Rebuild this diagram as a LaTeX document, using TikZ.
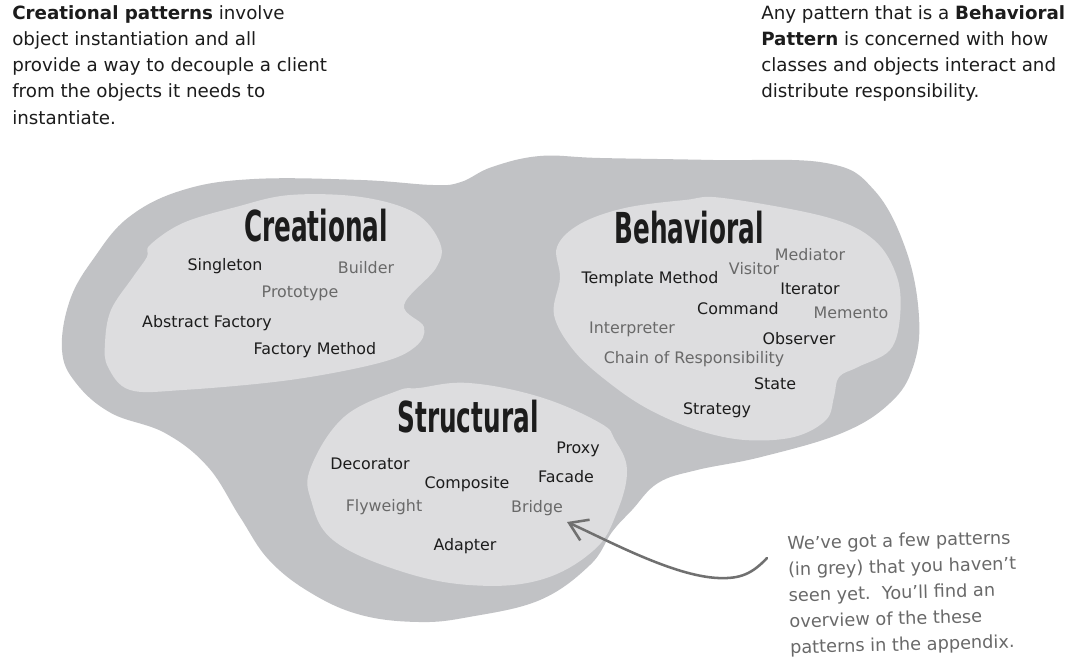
\documentclass[tikz,border=0pt]{standalone}
\usepackage{fontspec}
\setmainfont{DejaVu Sans}
\usepackage{graphicx}
\usetikzlibrary{arrows.meta, positioning}
\definecolor{blobdark}{RGB}{193,194,197}
\definecolor{bloblight}{RGB}{221,221,223}
\definecolor{seentext}{RGB}{28,28,28}
\definecolor{unseentext}{RGB}{105,105,105}
\definecolor{penline}{RGB}{112,112,112}
\newcommand{\narrowtitle}[1]{\scalebox{0.58}[1]{\bfseries #1}}
\tikzset{
    outerblob/.style={fill=blobdark, draw=none},
    innerblob/.style={fill=bloblight, draw=none},
    groupname/.style={inner sep=0pt, text=seentext, text height=23.4pt, text depth=0pt, font=\fontsize{32}{32}\selectfont},
    known/.style={inner sep=0pt, text=seentext, text height=8.6pt, text depth=2.6pt, font=\fontsize{11.9}{14}\selectfont},
    unseen/.style={known, text=unseentext},
    blurb/.style={inner sep=0pt, align=left, anchor=north west, text=seentext, font=\fontsize{13.7}{19.7}\selectfont},
    scribble/.style={inner sep=0pt, align=left, anchor=north west, text=unseentext, font=\fontsize{13.3}{19.5}\selectfont, rotate=1.5},
    arrow/.style={-{Straight Barb[length=13pt,width=17pt]}, line width=1.9pt, draw=penline, line cap=round},
}

\begin{document}
\begin{tikzpicture}[x=0.75pt, y=-0.75pt]
        \useasboundingbox (0,0) rectangle (1077,663);
        \fill[white] (0,0) rectangle (1077,663);

        % Blobs
        \path[outerblob] plot[smooth cycle, tension=0.65] coordinates {
            (62,350) (70,300) (94,258) (129,217) (183,190) (254,179) (361,180)
            (433,185) (461,182) (492,167) (540,156) (600,158) (713,160) (826,163)
            (874,190) (906,250) (919,317) (913,367) (890,403) (842,433) (761,457)
            (697,470) (658,483) (632,510) (612,532) (590,565) (540,600) (469,617)
            (419,622) (361,615) (311,593) (269,560) (240,517) (208,467) (165,433)
            (111,413) (76,383)};
        \path[innerblob] plot[smooth cycle, tension=0.6] coordinates {
            (105,343) (111,310) (133,277) (147,257) (150,245) (183,223) (236,207)
            (290,195) (361,197) (415,213) (440,243) (436,268) (404,305)
            (424,327) (415,347) (379,363) (290,380) (183,390) (130,390)
            (108,367)};
        \path[innerblob] plot[smooth cycle, tension=0.6] coordinates {
            (557,247) (580,224) (625,208) (685,200) (723,198) (826,217) (874,240)
            (897,277) (900,317) (890,350) (858,367) (839,377) (834,397) (826,420)
            (794,437) (745,440) (697,430) (650,410) (612,385) (575,352) (554,315)
            (560,278)};
        \path[innerblob] plot[smooth cycle, tension=0.65] coordinates {
            (419,388) (397,391) (344,417) (311,467) (311,500) (333,540) (397,570)
            (469,585) (540,580) (594,550) (617,512) (627,470) (615,440) (600,423)
            (540,397) (469,383)};

        % Texts at the top
        \node[blurb] (blurbcreational) at (12,5) {\textbf{Creational patterns} involve\\
            object instantiation and all\\
            provide a way to decouple a client\\
            from the objects it needs to\\
            instantiate.};
        \node[blurb] (blurbbehavioral) at (761,5) {Any pattern that is a \textbf{Behavioral}\\
            \textbf{Pattern} is concerned with how\\
            classes and objects interact and\\
            distribute responsibility.};

        % Group names
        \node[groupname] (creational) at (316,226) {\narrowtitle{Creational}};
        \node[groupname] (behavioral) at (689,228) {\narrowtitle{Behavioral}};
        \node[groupname] (structural) at (468,417) {\narrowtitle{Structural}};

        % Creational patterns
        \node[known]  (singleton) at (225,266) {Singleton};
        \node[unseen] (builder)   at (366,269) {Builder};
        \node[unseen] (prototype) at (300,293) {Prototype};
        \node[known]  (absfactory) at (207,323) {Abstract Factory};
        \node[known]  (factorymethod) at (315,350) {Factory Method};

        % Behavioral patterns
        \node[unseen] (mediator)  at (810,256) {Mediator};
        \node[unseen] (visitor)   at (754,270) {Visitor};
        \node[known]  (template)  at (650,279) {Template Method};
        \node[known]  (iterator)  at (810,290) {Iterator};
        \node[known]  (command)   at (738,310) {Command};
        \node[unseen] (memento)   at (851,314) {Memento};
        \node[unseen] (interpreter) at (632,329) {Interpreter};
        \node[known]  (observer)  at (799,340) {Observer};
        \node[unseen] (chain)     at (694,359) {Chain of Responsibility};
        \node[known]  (state)     at (775,385) {State};
        \node[known]  (strategy)  at (717,410) {Strategy};

        % Structural patterns
        \node[known]  (proxy)     at (578,449) {Proxy};
        \node[known]  (decorator) at (370,465) {Decorator};
        \node[known]  (facade)    at (566,478) {Facade};
        \node[known]  (composite) at (467,484) {Composite};
        \node[unseen] (flyweight) at (384,507) {Flyweight};
        \node[unseen] (bridge)    at (537,508) {Bridge};
        \node[known]  (adapter)   at (465,546) {Adapter};

        % Note and pointer
        \node[scribble] (greynote) at (787,536) {We've got a few patterns\\
            (in grey) that you haven't\\
            seen yet.\ \ You'll find an\\
            overview of the these\\
            patterns in the appendix.};
        \coordinate (tail) at (767,558);
        \coordinate (bend) at (718,578);
        \coordinate (tip) at (567,522);
        \draw[arrow] (tail) .. controls +(-15,16) and +(22,1) .. (bend)
            .. controls +(-45,-2) and +(40,18) .. (tip);
\end{tikzpicture}
\end{document}
